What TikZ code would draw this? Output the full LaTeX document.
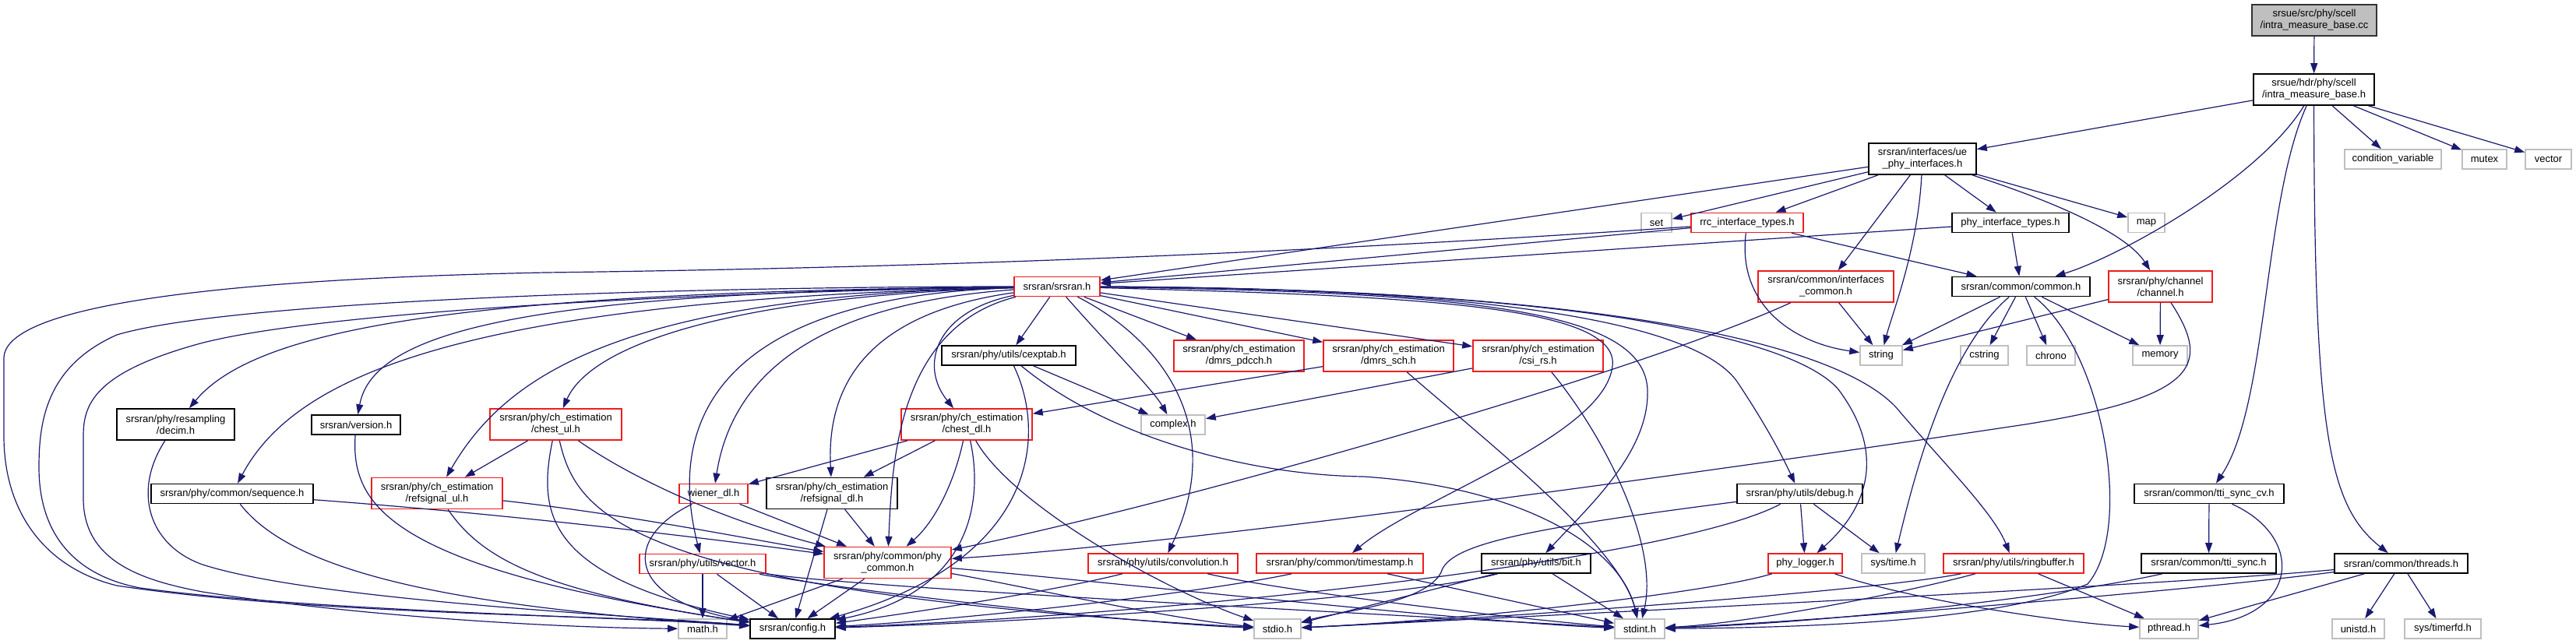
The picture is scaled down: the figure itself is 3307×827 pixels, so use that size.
\documentclass[tikz,border=0pt]{standalone}
\usepackage{fontspec}
\setmainfont{Liberation Sans}
\usepackage{tikz}
\usetikzlibrary{arrows.meta}
\definecolor{navy}{RGB}{25,25,112}
\definecolor{trunc}{RGB}{238,30,30}
\definecolor{sysgray}{RGB}{191,191,191}
\tikzstyle{file} = [draw, line width=1.6pt, inner xsep=2pt, inner ysep=0pt, align=center, font=\fontsize{13}{15}\selectfont]
\tikzstyle{blk} = [file, draw=black]
\tikzstyle{cut} = [file, draw=trunc]
\tikzstyle{sys} = [file, draw=sysgray]
\tikzstyle{src} = [file, draw=black!80, fill=sysgray]
\tikzstyle{sgl} = [minimum height=25pt]
\tikzstyle{dbl} = [minimum height=40pt]
\tikzstyle{dep} = [draw=navy, line width=1.2pt, ->]

\begin{document}
\begin{tikzpicture}[x=1pt, y=-1pt, >={Triangle[length=13pt,width=9pt]}]
\useasboundingbox (0,0) rectangle (3307,827);

% files
\node[src, dbl, minimum width=160pt] (cc) at (2971,26) {srsue/src/phy/scell\\/intra\_measure\_base.cc};
\node[blk, dbl, minimum width=155pt] (hdr) at (2970.5,115) {srsue/hdr/phy/scell\\/intra\_measure\_base.h};
\node[blk, dbl, minimum width=138pt] (ue) at (2468,204) {srsran/interfaces/ue\\\_phy\_interfaces.h};
\node[sys, sgl, minimum width=124pt] (condvar) at (3072,204.5) {condition\_variable};
\node[sys, sgl, minimum width=57pt] (mutex) at (3189.5,204.5) {mutex};
\node[sys, sgl, minimum width=59pt] (vector) at (3271.5,204.5) {vector};

\node[sys, sgl, minimum width=39pt] (set) at (2126.5,286) {set};
\node[cut, sgl, minimum width=144pt] (rrc) at (2243,286) {rrc\_interface\_types.h};
\node[blk, sgl, minimum width=150pt] (phytypes) at (2581,286) {phy\_interface\_types.h};
\node[sys, sgl, minimum width=47pt] (map) at (2755.5,286) {map};

\node[cut, sgl, minimum width=110pt] (srsran) at (1357,368) {srsran/srsran.h};
\node[cut, dbl, minimum width=174pt] (ifcommon) at (2344,368) {srsran/common/interfaces\\\_common.h};
\node[blk, sgl, minimum width=177pt] (common) at (2594.5,368) {srsran/common/common.h};
\node[cut, dbl, minimum width=133pt] (channel) at (2773.5,368) {srsran/phy/channel\\/channel.h};

\node[blk, sgl, minimum width=172pt] (cexptab) at (1295,456.5) {srsran/phy/utils/cexptab.h};
\node[cut, dbl, minimum width=167pt] (dmrspdcch) at (1590.5,457) {srsran/phy/ch\_estimation\\/dmrs\_pdcch.h};
\node[cut, dbl, minimum width=167pt] (dmrssch) at (1782.5,457) {srsran/phy/ch\_estimation\\/dmrs\_sch.h};
\node[cut, dbl, minimum width=167pt] (csirs) at (1974.5,457) {srsran/phy/ch\_estimation\\/csi\_rs.h};
\node[sys, sgl, minimum width=54pt] (string) at (2415,456.5) {string};
\node[sys, sgl, minimum width=61pt] (cstring) at (2547.5,456.5) {cstring};
\node[sys, sgl, minimum width=62pt] (chrono) at (2633,456.5) {chrono};
\node[sys, sgl, minimum width=70pt] (memory) at (2773,456.5) {memory};

\node[blk, dbl, minimum width=151pt] (decim) at (225.5,545) {srsran/phy/resampling\\/decim.h};
\node[blk, sgl, minimum width=114pt] (version) at (457,545.5) {srsran/version.h};
\node[cut, dbl, minimum width=169pt] (chestul) at (713.5,545) {srsran/phy/ch\_estimation\\/chest\_ul.h};
\node[cut, dbl, minimum width=168pt] (chestdl) at (1241,545) {srsran/phy/ch\_estimation\\/chest\_dl.h};
\node[sys, sgl, minimum width=82pt] (complex) at (1506,545.5) {complex.h};

\node[blk, sgl, minimum width=208pt] (sequence) at (298,634) {srsran/phy/common/sequence.h};
\node[cut, dbl, minimum width=168pt] (refsigul) at (561,633.5) {srsran/phy/ch\_estimation\\/refsignal\_ul.h};
\node[cut, sgl, minimum width=88pt] (wienerdl) at (916,634) {wiener\_dl.h};
\node[blk, dbl, minimum width=168pt] (refsigdl) at (1068,633.5) {srsran/phy/ch\_estimation\\/refsignal\_dl.h};
\node[blk, sgl, minimum width=161pt] (debug) at (2310.5,634) {srsran/phy/utils/debug.h};
\node[blk, sgl, minimum width=192pt] (ttisynccv) at (2836,634) {srsran/common/tti\_sync\_cv.h};

\node[cut, sgl, minimum width=162pt] (vectorh) at (902,724) {srsran/phy/utils/vector.h};
\node[cut, dbl, minimum width=163pt] (phycommon) at (1139.5,722.5) {srsran/phy/common/phy\\\_common.h};
\node[cut, sgl, minimum width=192pt] (convolution) at (1493,723.5) {srsran/phy/utils/convolution.h};
\node[cut, sgl, minimum width=214pt] (timestamp) at (1720,723.5) {srsran/phy/common/timestamp.h};
\node[blk, sgl, minimum width=140pt] (bit) at (1972,723.5) {srsran/phy/utils/bit.h};
\node[cut, sgl, minimum width=95pt] (phylogger) at (2317.5,723.5) {phy\_logger.h};
\node[sys, sgl, minimum width=81pt] (systime) at (2430.5,723.5) {sys/time.h};
\node[cut, sgl, minimum width=180pt] (ringbuffer) at (2585,723.5) {srsran/phy/utils/ringbuffer.h};
\node[blk, sgl, minimum width=173pt] (ttisync) at (2835.5,723.5) {srsran/common/tti\_sync.h};
\node[blk, sgl, minimum width=171pt] (threads) at (3082.5,723.5) {srsran/common/threads.h};

\node[sys, sgl, minimum width=62pt] (math) at (902,807.5) {math.h};
\node[blk, sgl, minimum width=109pt] (config) at (1017.5,807.5) {srsran/config.h};
\node[sys, sgl, minimum width=60pt] (stdio) at (1640,807.5) {stdio.h};
\node[sys, sgl, minimum width=64pt] (stdint) at (2105,807.5) {stdint.h};
\node[sys, sgl, minimum width=75pt] (pthread) at (2784.5,807.5) {pthread.h};
\node[sys, sgl, minimum width=67pt] (unistd) at (3027.5,807.5) {unistd.h};
\node[sys, sgl, minimum width=98pt] (timerfd) at (3136,807.5) {sys/timerfd.h};

% includes
\draw[dep] (cc) -- (hdr);
\draw[dep] (hdr) -- (ue);
\draw[dep] (hdr) .. controls (2900,230) and (2720,330) .. (common);
\draw[dep] (hdr) -- (condvar);
\draw[dep] (hdr) -- (mutex);
\draw[dep] (hdr) -- (vector);
\draw[dep] (hdr) .. controls (2905,260) and (2912,520) .. (ttisynccv);
\draw[dep] (hdr) .. controls (2971,560) and (2990,650) .. (threads);

\draw[dep] (ue) -- (srsran);
\draw[dep] (ue) -- (set);
\draw[dep] (ue) -- (rrc);
\draw[dep] (ue) -- (phytypes);
\draw[dep] (ue) -- (map);
\draw[dep] (ue) .. controls (2462,320) and (2430,400) .. (string);
\draw[dep] (ue) -- (ifcommon);
\draw[dep] (ue) .. controls (2640,260) and (2730,300) .. (channel);

\draw[dep] (rrc) -- (srsran);
\draw[dep] (rrc) .. controls (1600,330) and (1100,345) .. (700,350) .. controls (300,358) and (5,390) .. (5,460) -- (5,560) .. controls (5,660) and (60,730) .. (150,752) .. controls (400,790) and (800,790) .. (config);
\draw[dep] (rrc) .. controls (2230,390) and (2300,440) .. (string);
\draw[dep] (rrc) -- (common);
\draw[dep] (phytypes) -- (srsran);
\draw[dep] (phytypes) -- (common);

\draw[dep] (ifcommon) -- (string);
\draw[dep] (ifcommon) .. controls (2100,480) and (1500,650) .. (phycommon);
\draw[dep] (common) -- (string);
\draw[dep] (common) -- (cstring);
\draw[dep] (common) -- (chrono);
\draw[dep] (common) -- (memory);
\draw[dep] (common) .. controls (2500,450) and (2460,600) .. (systime);
\draw[dep] (common) .. controls (2700,450) and (2740,680) .. (2680,750) .. controls (2560,800) and (2300,806) .. (stdint);
\draw[dep] (channel) -- (memory);
\draw[dep] (channel) -- (string);
\draw[dep] (channel) .. controls (2840,470) and (2820,510) .. (2600,545) .. controls (2100,620) and (1500,700) .. (phycommon);

\draw[dep] (ttisynccv) -- (ttisync);
\draw[dep] (ttisynccv) .. controls (2960,690) and (2950,790) .. (pthread);
\draw[dep] (ttisync) .. controls (2650,765) and (2350,800) .. (stdint);
\draw[dep] (threads) -- (pthread);
\draw[dep] (threads) -- (unistd);
\draw[dep] (threads) -- (timerfd);
\draw[dep] (threads) .. controls (2800,760) and (2300,800) .. (stdint);
\draw[dep] (threads) .. controls (2800,750) and (2000,790) .. (stdio);
\draw[dep] (ringbuffer) -- (pthread);
\draw[dep] (ringbuffer) .. controls (2450,760) and (2250,800) .. (stdint);
\draw[dep] (ringbuffer) .. controls (2400,760) and (1900,795) .. (stdio);
\draw[dep] (phylogger) .. controls (2450,770) and (2650,800) .. (pthread);
\draw[dep] (phylogger) .. controls (2200,760) and (1900,795) .. (stdio);
\draw[dep] (debug) -- (phylogger);
\draw[dep] (debug) -- (systime);
\draw[dep] (debug) .. controls (1950,680) and (1860,700) .. (1850,735) .. controls (1830,775) and (1720,785) .. (stdio);
\draw[dep] (debug) .. controls (2150,720) and (1500,790) .. (config);
\draw[dep] (bit) -- (stdint);
\draw[dep] (bit) -- (stdio);
\draw[dep] (bit) .. controls (1800,770) and (1300,800) .. (config);
\draw[dep] (timestamp) -- (stdint);
\draw[dep] (timestamp) .. controls (1550,760) and (1250,795) .. (config);
\draw[dep] (convolution) .. controls (1350,760) and (1150,790) .. (config);
\draw[dep] (convolution) .. controls (1650,760) and (1950,795) .. (stdint);

\draw[dep] (phycommon) -- (config);
\draw[dep] (phycommon) -- (math);
\draw[dep] (phycommon) .. controls (1300,750) and (1500,795) .. (stdio);
\draw[dep] (phycommon) .. controls (1400,745) and (1900,800) .. (stdint);
\draw[dep] (vectorh) -- (math);
\draw[dep] (vectorh) -- (config);
\draw[dep] (vectorh) .. controls (1100,760) and (1450,800) .. (stdio);
\draw[dep] (vectorh) .. controls (1100,755) and (1800,790) .. (stdint);
\draw[dep] (wienerdl) -- (phycommon);
\draw[dep] (wienerdl) .. controls (800,690) and (800,770) .. (config);
\draw[dep] (refsigdl) -- (config);
\draw[dep] (refsigdl) -- (phycommon);
\draw[dep] (chestdl) -- (wienerdl);
\draw[dep] (chestdl) -- (refsigdl);
\draw[dep] (chestdl) .. controls (1225,620) and (1200,670) .. (phycommon);
\draw[dep] (chestdl) .. controls (1262,640) and (1250,760) .. (config);
\draw[dep] (chestdl) .. controls (1300,650) and (1500,760) .. (stdio);
\draw[dep] (cexptab) -- (complex);
\draw[dep] (cexptab) .. controls (1345,560) and (1330,720) .. (config);
\draw[dep] (cexptab) .. controls (1420,560) and (1600,610) .. (1750,612) .. controls (1950,625) and (2080,700) .. (stdint);
\draw[dep] (dmrssch) -- (chestdl);
\draw[dep] (dmrssch) .. controls (1900,560) and (2080,700) .. (stdint);
\draw[dep] (csirs) -- (complex);
\draw[dep] (csirs) .. controls (2060,560) and (2130,700) .. (stdint);

\draw[dep] (chestul) -- (refsigul);
\draw[dep] (chestul) .. controls (690,660) and (700,740) .. (config);
\draw[dep] (chestul) .. controls (740,660) and (800,760) .. (stdio);
\draw[dep] (chestul) .. controls (790,600) and (900,660) .. (phycommon);
\draw[dep] (refsigul) .. controls (620,720) and (700,760) .. (config);
\draw[dep] (refsigul) .. controls (800,660) and (950,690) .. (phycommon);
\draw[dep] (sequence) .. controls (380,740) and (600,780) .. (config);
\draw[dep] (sequence) .. controls (650,660) and (900,690) .. (phycommon);
\draw[dep] (decim) .. controls (170,630) and (190,700) .. (260,725) .. controls (400,770) and (800,790) .. (config);
\draw[dep] (version) .. controls (450,650) and (500,730) .. (config);

\draw[dep] (srsran) -- (cexptab);
\draw[dep] (srsran) .. controls (1420,440) and (1480,500) .. (complex);
\draw[dep] (srsran) .. controls (1480,430) and (1580,540) .. (convolution);
\draw[dep] (srsran) -- (dmrspdcch);
\draw[dep] (srsran) -- (dmrssch);
\draw[dep] (srsran) -- (csirs);
\draw[dep] (srsran) .. controls (1800,380) and (2080,390) .. (2070,470) .. controls (2060,560) and (1820,640) .. (timestamp);
\draw[dep] (srsran) .. controls (1900,375) and (2110,400) .. (2115,500) .. controls (2118,580) and (2040,650) .. (bit);
\draw[dep] (srsran) .. controls (1950,370) and (2180,420) .. (2230,490) .. controls (2270,550) and (2290,590) .. (debug);
\draw[dep] (srsran) .. controls (2000,370) and (2300,430) .. (2360,500) .. controls (2420,580) and (2400,650) .. (phylogger);
\draw[dep] (srsran) .. controls (2050,370) and (2370,440) .. (2440,530) .. controls (2500,600) and (2560,660) .. (ringbuffer);
\draw[dep] (srsran) .. controls (1200,400) and (1180,470) .. (chestdl);
\draw[dep] (srsran) .. controls (1150,420) and (1145,600) .. (phycommon);
\draw[dep] (srsran) .. controls (1130,400) and (1060,480) .. (refsigdl);
\draw[dep] (srsran) .. controls (1050,390) and (940,480) .. (wienerdl);
\draw[dep] (srsran) .. controls (950,380) and (850,520) .. (vectorh);
\draw[dep] (srsran) .. controls (950,380) and (760,440) .. (chestul);
\draw[dep] (srsran) .. controls (800,380) and (650,480) .. (refsigul);
\draw[dep] (srsran) .. controls (700,375) and (480,420) .. (version);
\draw[dep] (srsran) .. controls (600,385) and (380,480) .. (sequence);
\draw[dep] (srsran) .. controls (600,375) and (330,420) .. (decim);
\draw[dep] (srsran) .. controls (900,368) and (300,385) .. (150,430) .. controls (60,470) and (50,540) .. (50,600) .. controls (50,690) and (100,740) .. (180,755) .. controls (400,785) and (800,792) .. (config);
\draw[dep] (srsran) .. controls (900,375) and (400,400) .. (250,443) .. controls (120,480) and (107,520) .. (107,560) -- (107,640) .. controls (107,720) and (180,745) .. (260,760) .. controls (450,790) and (700,806) .. (math);
\end{tikzpicture}
\end{document}
